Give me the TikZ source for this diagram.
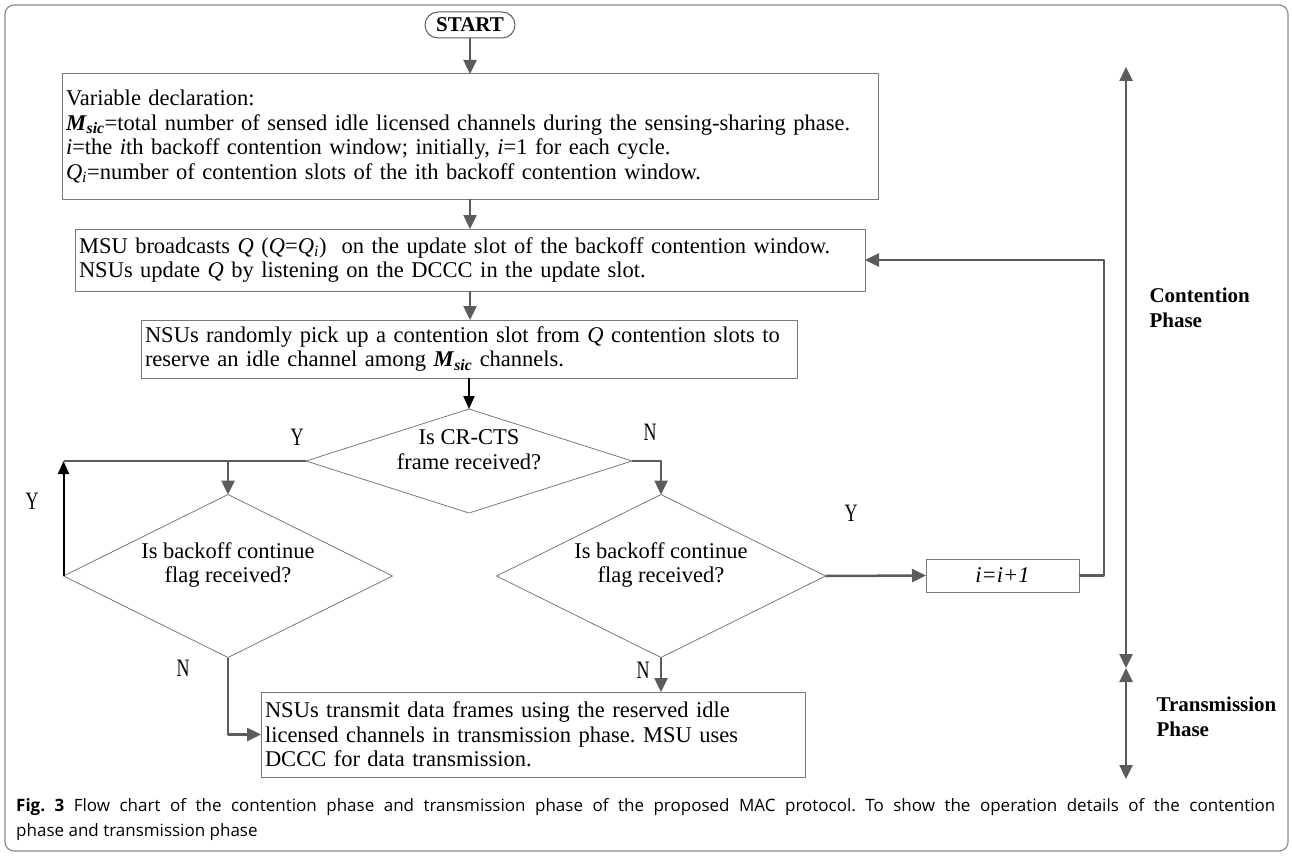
\documentclass[tikz,border=0pt]{standalone}
\usepackage{fontspec}
\setmainfont{Liberation Serif}
\newfontfamily\capfont{Open Sans}
\newfontfamily\ynfont[FakeStretch=0.72]{Liberation Serif}
\usetikzlibrary{shapes.geometric,arrows.meta,positioning}
\definecolor{arrgray}{RGB}{92,92,92}
\definecolor{boxgray}{RGB}{120,120,120}
\definecolor{framegray}{RGB}{140,140,140}
\newcommand\Msic{\textbf{\textit{M}}\textsubscript{\textbf{\textit{sic}}}}
\frenchspacing
\begin{document}
\begin{tikzpicture}[x=1pt,y=-1pt,line join=round,
  font=\fontsize{22.5}{24.7}\selectfont,
  box/.style={draw=boxgray,line width=1pt,inner xsep=4pt,inner ysep=0pt,outer sep=0pt,align=left},
  dec/.style={diamond,draw=boxgray,line width=0.8pt,inner sep=0pt,outer sep=0pt},
  arr/.style={draw=arrgray,line width=2.5pt,-{Triangle[length=14pt,width=13pt]}},
  blkarr/.style={draw=black,line width=2pt,-{Triangle[length=13pt,width=11pt]}},
  dblarr/.style={draw=arrgray,line width=2.5pt,{Triangle[length=14pt,width=13pt]}-{Triangle[length=14pt,width=13pt]}},
  yn/.style={font=\ynfont\fontsize{25}{25}\selectfont},
  phase/.style={font=\bfseries\fontsize{21}{25}\selectfont,align=left,anchor=west}]
\useasboundingbox (0,0) rectangle (1292,856);
\draw[framegray,line width=1.2pt,rounded corners=9pt] (5,5) rectangle (1288,851);
\node[draw=arrgray,line width=1pt,rounded corners=13pt,minimum width=90pt,minimum height=26pt,inner sep=0pt,
  font=\bfseries\fontsize{21}{21}\selectfont] (start) at (470,25) {START};
\node[box,text width=808pt,minimum height=125pt] (decl) at (470,136.5) {Variable declaration:\\
  \Msic=total number of sensed idle licensed channels during the sensing-sharing phase.\\
  \textit{i}=the \textit{i}th backoff contention window; initially, \textit{i}=1 for each cycle.\\
  \textit{Q}\textsubscript{\textit{i}}=number of contention slots of the ith backoff contention window.};
\node[box,text width=782pt,minimum height=62pt] (bcast) at (470,260) {MSU broadcasts \textit{Q} (\textit{Q}=\textit{Q}\textsubscript{\textit{i}})\ \ on the update slot of the backoff contention window.\\
  NSUs update \textit{Q} by listening on the DCCC in the update slot.};
\node[box,text width=648pt,minimum height=58pt] (pick) at (469,349) {NSUs randomly pick up a contention slot from \textit{Q} contention slots to\\
  reserve an idle channel among \Msic{} channels.};
\node[dec,aspect=3.1,minimum width=326pt,minimum height=104pt] (cts) at (469,461) {};
\node[dec,aspect=2,minimum width=329pt,minimum height=163pt] (flagl) at (228,576) {};
\node[dec,aspect=2,minimum width=329pt,minimum height=163pt] (flagr) at (661,576) {};
\node[align=center] (ctstxt) at (469,450) {Is CR-CTS\\frame received?};
\node[align=center] (flagltxt) at (228,565) {Is backoff continue\\flag received?};
\node[align=center] (flagrtxt) at (661,565) {Is backoff continue\\flag received?};
\node[box,align=center,minimum width=153pt,minimum height=33pt] (incr) at (1002.5,575.5) {\textit{i=i+1}};
\node[box,text width=536pt,minimum height=85pt] (trans) at (533,734.5) {NSUs transmit data frames using the reserved idle\\
  licensed channels in transmission phase. MSU uses\\
  DCCC for data transmission.};
\draw[arr] (start) -- (start |- decl.north);
\draw[arr] (decl.south -| start) -- (bcast.north -| start);
\draw[arr] (bcast.south -| start) -- (pick.north -| start);
\draw[blkarr] (pick.south -| cts) -- (cts.north);
\draw[arrgray,line width=2.5pt] (cts.west) -- (cts.west -| flagl.west) coordinate (lcorner);
\draw[arr] (cts.west -| flagl.north) -- (flagl.north);
\draw[blkarr] (flagl.west) -- (lcorner);
\draw[arr] (cts.east) -| (flagr.north);
\draw[arr] (flagr.east) -- (incr.west);
\draw[arr] (incr.east) -- ++(25,0) |- (bcast.east);
\draw[arr] (flagr.south) -- (flagr.south |- trans.north);
\draw[arr] (flagl.south) |- (trans.west);
\foreach \n/\t/\a/\b in {ya/Y/297/437, yb/Y/32/501, na/N/650/432, yc/Y/851/513, nb/N/183/668, nc/N/643/670}
  \node[yn] (\n) at (\a,\b) {\t};
\path (1126,67) coordinate (ctop) (1126,668) coordinate (cmid) (1126,779) coordinate (tbot);
\draw[dblarr] (ctop) -- (cmid);
\draw[dblarr] (cmid) -- (tbot);
\node[phase] (cph) at (1146,308) {Contention\\Phase};
\node[phase] (tph) at (1153,717) {Transmission\\Phase};
\node[anchor=north west,inner sep=0pt,text width=1259pt,align=justify,
  font=\capfont\fontsize{17}{25}\selectfont] (cap) at (16,798) {\textbf{Fig.~3} Flow chart of the contention phase and transmission phase of the proposed MAC protocol. To show the operation details of the contention\linebreak phase and transmission phase};
\end{tikzpicture}
\end{document}
